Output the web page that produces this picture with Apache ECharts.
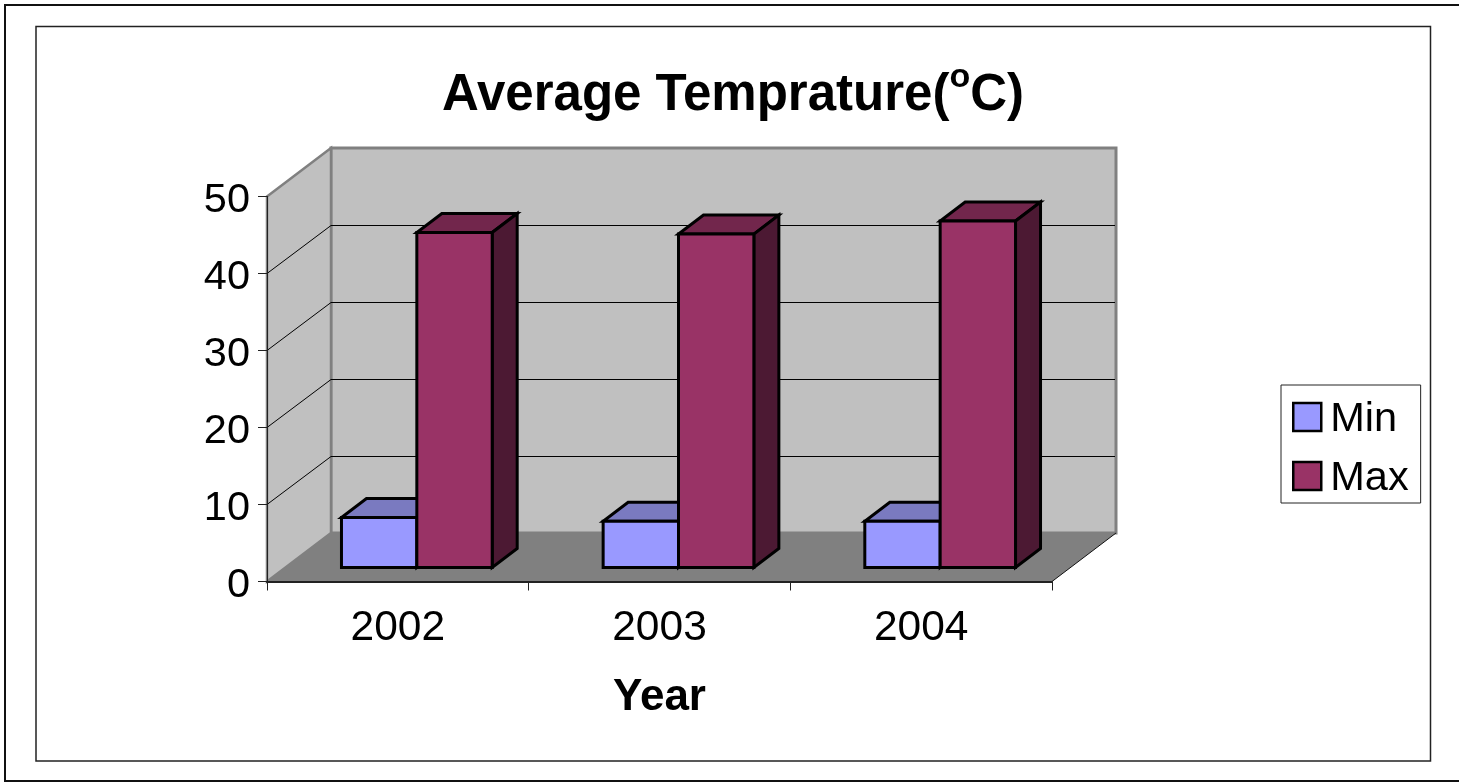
<!DOCTYPE html>
<html><head><meta charset="utf-8">
<style>html,body{margin:0;padding:0;background:#fff;overflow:hidden}#c{width:1459px;height:782px}</style>
<script src="https://cdn.jsdelivr.net/npm/echarts@6/dist/echarts.min.js"></script>
</head><body><div id="c"></div>
<script>
const years = ['2002', '2003', '2004'];
const minValues = [6.5, 6.0, 6.0];
const maxValues = [43.5, 43.3, 45.0];
const gridValues = [10, 20, 30, 40];
const FONT = '"Liberation Sans", Arial, sans-serif';
const WALL = [64, -48.5];
const BAR_FRONT = [19, -14];
const BAR_DEPTH = [25, -19];
const BAR_RATIO = 0.288;

const chart = echarts.init(document.getElementById('c'), null, {renderer: 'canvas'});

function poly(points, fill, stroke, lw) {
  return {type: 'polygon', shape: {points}, style: {fill, stroke, lineWidth: lw || 0, lineJoin: 'miter'}};
}
function line(a, b, stroke, lw) {
  return {type: 'line', shape: {x1: a[0], y1: a[1], x2: b[0], y2: b[1]}, style: {stroke, lineWidth: lw}};
}
function renderWalls(params, api) {
  const cs = params.coordSys;
  const L = cs.x, R = cs.x + cs.width, T = cs.y, B = cs.y + cs.height;
  const dx = WALL[0], dy = WALL[1];
  const kids = [];
  kids.push(poly([[L + dx, T + dy], [R + dx, T + dy], [R + dx, B + dy], [L + dx, B + dy]], '#c0c0c0', '#808080', 3));
  kids.push(poly([[L, T], [L + dx, T + dy], [L + dx, B + dy], [L, B]], '#c0c0c0', '#808080', 2.5));
  kids.push(poly([[L, B], [R, B], [R + dx, B + dy], [L + dx, B + dy]], '#808080', null, 0));
  kids.push(line([R, B], [R + dx, B + dy], '#111', 1));
  gridValues.forEach(v => {
    const y = api.coord([0, v])[1];
    const by = Math.floor(y + dy) + 0.5;
    kids.push(line([L, y], [L + dx, by], '#000', 1));
    kids.push(line([L + dx, by], [R + dx - 1, by], '#000', 1));
  });
  return {type: 'group', children: kids};
}
function barRenderer(seriesPos, front, top, side) {
  return function (params, api) {
    const band = api.size([1, 0])[0];
    const w = band * BAR_RATIO;
    const p = api.coord([api.value(0), api.value(1)]);
    const b = api.coord([api.value(0), 0]);
    const x0 = p[0] + BAR_FRONT[0] + (seriesPos === 0 ? -w : 0);
    const x1 = x0 + w;
    const yT = p[1] + BAR_FRONT[1];
    const yB = b[1] + BAR_FRONT[1];
    const dx = BAR_DEPTH[0], dy = BAR_DEPTH[1];
    const lw = 3, k = '#000';
    return {type: 'group', children: [
      poly([[x0, yT], [x1, yT], [x1 + dx, yT + dy], [x0 + dx, yT + dy]], top, k, lw),
      poly([[x1, yT], [x1 + dx, yT + dy], [x1 + dx, yB + dy], [x1, yB]], side, k, lw),
      poly([[x0, yT], [x1, yT], [x1, yB], [x0, yB]], front, k, lw)
    ]};
  };
}
chart.setOption({
  animation: false,
  textStyle: {fontFamily: FONT, color: '#000'},
  title: {
    text: '{a|Average Temprature(}{b|o}{a|C)}',
    left: 728, top: 56, textAlign: 'center',
    textStyle: {rich: {
      a: {fontFamily: FONT, fontWeight: 'bold', fontSize: 51, color: '#000', lineHeight: 70},
      b: {fontFamily: FONT, fontWeight: 'bold', fontSize: 34, color: '#000', verticalAlign: 'top', lineHeight: 14}
    }}
  },
  legend: {
    orient: 'vertical', left: 1281, top: 385,
    data: [
      {name: 'Min', icon: 'rect', itemStyle: {color: '#9999ff', borderColor: '#000', borderWidth: 2.5}},
      {name: 'Max', icon: 'rect', itemStyle: {color: '#993366', borderColor: '#000', borderWidth: 2.5}}
    ],
    formatter: name => '{t|' + name + '}',
    itemWidth: 28, itemHeight: 28, itemGap: 17, padding: [13.5, 12, 3.5, 11],
    backgroundColor: '#fff', borderColor: '#222', borderWidth: 1, borderRadius: 0,
    textStyle: {rich: {t: {fontFamily: FONT, fontSize: 41.5, color: '#000', padding: [5, 5, 0, 4]}}}
  },
  grid: {left: 267, top: 196.5, width: 785, height: 385},
  xAxis: {
    type: 'category', data: years, z: 6,
    name: 'Year', nameLocation: 'middle', nameGap: 94,
    nameTextStyle: {fontFamily: FONT, fontWeight: 'bold', fontSize: 44, color: '#000'},
    axisLine: {lineStyle: {color: '#222', width: 2}},
    axisTick: {show: true, alignWithLabel: false, length: 9, lineStyle: {color: '#222', width: 1}},
    axisLabel: {fontSize: 42.5, color: '#000', margin: 25, interval: 0}
  },
  yAxis: {
    type: 'value', min: 0, max: 50, interval: 10, z: 6,
    axisLine: {show: true, lineStyle: {color: '#222', width: 1}},
    axisTick: {show: true, length: 9, lineStyle: {color: '#222', width: 1}},
    axisLabel: {
      color: '#000', margin: 17,
      formatter: '{t|{value}}',
      rich: {t: {fontFamily: FONT, fontSize: 41.5, color: '#000', padding: [9, 0, 0, 0]}}
    },
    splitLine: {show: false}
  },
  series: [
    {type: 'custom', name: 'walls', z: 1, silent: true, data: [[0, 0]], encode: {x: 0, y: 1}, renderItem: renderWalls},
    {type: 'custom', name: 'Min', z: 2, data: minValues.map((v, i) => [i, v]), encode: {x: 0, y: 1},
     itemStyle: {color: '#9999ff'}, renderItem: barRenderer(0, '#9999ff', '#7a7ac0', '#4d4d80')},
    {type: 'custom', name: 'Max', z: 3, data: maxValues.map((v, i) => [i, v]), encode: {x: 0, y: 1},
     itemStyle: {color: '#993366'}, renderItem: barRenderer(1, '#993366', '#72264c', '#4c1933')}
  ],
  graphic: [
    {type: 'rect', silent: true, z: 0, shape: {x: 5, y: 5, width: 1470, height: 776}, style: {fill: 'none', stroke: '#111', lineWidth: 2}},
    {type: 'rect', silent: true, z: 0, shape: {x: 36, y: 26.5, width: 1394.5, height: 734.5}, style: {fill: 'none', stroke: '#222', lineWidth: 1.5}}
  ]
});
</script></body></html>
